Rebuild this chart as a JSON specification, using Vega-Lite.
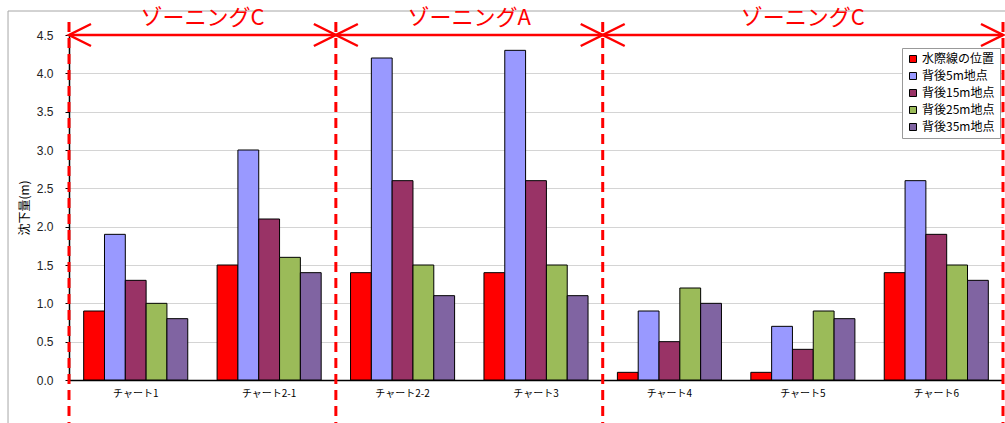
{
  "$schema": "https://vega.github.io/schema/vega-lite/v6.json",
  "width": 934,
  "height": 345,
  "autosize": {"type": "none"},
  "padding": {"left": 69, "top": 35, "right": 2, "bottom": 43},
  "background": "white",
  "config": {"view": {"stroke": null}, "font": "Liberation Sans"},
  "datasets": {
    "settlement": [
      {"chart": "チャート1", "series": "水際線の位置", "value": 0.9},
      {"chart": "チャート1", "series": "背後5m地点", "value": 1.9},
      {"chart": "チャート1", "series": "背後15m地点", "value": 1.3},
      {"chart": "チャート1", "series": "背後25m地点", "value": 1.0},
      {"chart": "チャート1", "series": "背後35m地点", "value": 0.8},
      {"chart": "チャート2-1", "series": "水際線の位置", "value": 1.5},
      {"chart": "チャート2-1", "series": "背後5m地点", "value": 3.0},
      {"chart": "チャート2-1", "series": "背後15m地点", "value": 2.1},
      {"chart": "チャート2-1", "series": "背後25m地点", "value": 1.6},
      {"chart": "チャート2-1", "series": "背後35m地点", "value": 1.4},
      {"chart": "チャート2-2", "series": "水際線の位置", "value": 1.4},
      {"chart": "チャート2-2", "series": "背後5m地点", "value": 4.2},
      {"chart": "チャート2-2", "series": "背後15m地点", "value": 2.6},
      {"chart": "チャート2-2", "series": "背後25m地点", "value": 1.5},
      {"chart": "チャート2-2", "series": "背後35m地点", "value": 1.1},
      {"chart": "チャート3", "series": "水際線の位置", "value": 1.4},
      {"chart": "チャート3", "series": "背後5m地点", "value": 4.3},
      {"chart": "チャート3", "series": "背後15m地点", "value": 2.6},
      {"chart": "チャート3", "series": "背後25m地点", "value": 1.5},
      {"chart": "チャート3", "series": "背後35m地点", "value": 1.1},
      {"chart": "チャート4", "series": "水際線の位置", "value": 0.1},
      {"chart": "チャート4", "series": "背後5m地点", "value": 0.9},
      {"chart": "チャート4", "series": "背後15m地点", "value": 0.5},
      {"chart": "チャート4", "series": "背後25m地点", "value": 1.2},
      {"chart": "チャート4", "series": "背後35m地点", "value": 1.0},
      {"chart": "チャート5", "series": "水際線の位置", "value": 0.1},
      {"chart": "チャート5", "series": "背後5m地点", "value": 0.7},
      {"chart": "チャート5", "series": "背後15m地点", "value": 0.4},
      {"chart": "チャート5", "series": "背後25m地点", "value": 0.9},
      {"chart": "チャート5", "series": "背後35m地点", "value": 0.8},
      {"chart": "チャート6", "series": "水際線の位置", "value": 1.4},
      {"chart": "チャート6", "series": "背後5m地点", "value": 2.6},
      {"chart": "チャート6", "series": "背後15m地点", "value": 1.9},
      {"chart": "チャート6", "series": "背後25m地点", "value": 1.5},
      {"chart": "チャート6", "series": "背後35m地点", "value": 1.3}
    ],
    "zones": [
      {"zone": "ゾーニングC", "start": 0, "end": 2},
      {"zone": "ゾーニングA", "start": 2, "end": 4},
      {"zone": "ゾーニングC", "start": 4, "end": 7}
    ],
    "boundaries": [{"pos": 0}, {"pos": 2}, {"pos": 4}, {"pos": 7}],
    "frame": [{"part": "chart area"}]
  },
  "layer": [
    {
      "data": {"name": "settlement"},
      "mark": {"type": "bar", "stroke": "#000000", "strokeWidth": 1},
      "encoding": {
        "x": {
          "field": "chart",
          "type": "nominal",
          "sort": ["チャート1", "チャート2-1", "チャート2-2", "チャート3", "チャート4", "チャート5", "チャート6"],
          "scale": {"paddingInner": 0.22, "paddingOuter": 0.11},
          "axis": {
            "title": null,
            "labelAngle": 0,
            "labelFont": "Noto Sans CJK JP",
            "labelFontSize": 10,
            "labelColor": "#000000",
            "labelPadding": 8,
            "ticks": false,
            "domainColor": "#000000",
            "domainWidth": 1.5
          }
        },
        "xOffset": {
          "field": "series",
          "type": "nominal",
          "sort": ["水際線の位置", "背後5m地点", "背後15m地点", "背後25m地点", "背後35m地点"],
          "scale": {"paddingInner": 0, "paddingOuter": 0}
        },
        "y": {
          "field": "value",
          "type": "quantitative",
          "scale": {"domain": [0, 4.5], "nice": false},
          "axis": {
            "title": "沈下量(m)",
            "titleFont": "Noto Sans CJK JP",
            "titleFontSize": 12,
            "titleFontWeight": "normal",
            "titleColor": "#000000",
            "titlePadding": 5,
            "values": [0, 0.5, 1, 1.5, 2, 2.5, 3, 3.5, 4, 4.5],
            "labelOverlap": false,
            "format": ".1f",
            "labelFontSize": 12,
            "labelColor": "#222222",
            "labelPadding": 12,
            "tickSize": 4,
            "tickColor": "#000000",
            "domainColor": "#000000",
            "domainWidth": 1.5,
            "grid": true,
            "gridColor": "#d4d4d4",
            "gridWidth": 1
          }
        },
        "color": {
          "field": "series",
          "type": "nominal",
          "scale": {
            "domain": ["水際線の位置", "背後5m地点", "背後15m地点", "背後25m地点", "背後35m地点"],
            "range": ["#FF0000", "#9999FF", "#993366", "#9BBB59", "#8064A2"]
          },
          "legend": {
            "title": null,
            "orient": "none",
            "legendX": 833,
            "legendY": 13,
            "fillColor": "#ffffff",
            "strokeColor": "#999999",
            "padding": 5,
            "rowPadding": 5,
            "symbolType": "square",
            "symbolSize": 49,
            "symbolStrokeColor": "#000000",
            "symbolStrokeWidth": 1,
            "symbolOpacity": 1,
            "labelFont": "Noto Sans CJK JP",
            "labelFontSize": 12,
            "labelColor": "#000000",
            "labelOffset": 3
          }
        }
      }
    },
    {
      "layer": [
        {
          "data": {"name": "frame"},
          "mark": {"type": "rule", "color": "#a6a6a6", "strokeWidth": 1},
          "encoding": {
            "x": {"datum": -0.457, "type": "quantitative", "scale": {"domain": [0, 7], "nice": false, "zero": false}, "axis": null},
            "x2": {"datum": 7.5},
            "y": {"datum": 4.813, "type": "quantitative", "axis": null}
          }
        },
        {
          "data": {"name": "frame"},
          "mark": {"type": "rule", "color": "#a6a6a6", "strokeWidth": 1},
          "encoding": {
            "x": {"datum": -0.457, "type": "quantitative", "axis": null},
            "y": {"datum": 4.813, "type": "quantitative", "axis": null},
            "y2": {"datum": -0.6}
          }
        },
        {
          "data": {"name": "boundaries"},
          "mark": {"type": "rule", "color": "#FF0000", "strokeWidth": 3, "strokeDash": [10, 6]},
          "encoding": {
            "x": {"field": "pos", "type": "quantitative", "axis": null},
            "y": {"datum": 4.67, "type": "quantitative", "axis": null},
            "y2": {"datum": -0.6}
          }
        },
        {
          "data": {"name": "zones"},
          "mark": {"type": "rule", "color": "#FF0000", "strokeWidth": 2.5},
          "encoding": {
            "x": {"field": "start", "type": "quantitative", "axis": null},
            "x2": {"field": "end"},
            "y": {"datum": 4.5, "type": "quantitative", "axis": null}
          }
        },
        {
          "data": {"name": "zones"},
          "mark": {"type": "point", "shape": "M2,-1L0,0L2,1", "size": 484, "filled": false, "stroke": "#FF0000", "strokeWidth": 2.5, "opacity": 1},
          "encoding": {
            "x": {"field": "start", "type": "quantitative", "axis": null},
            "y": {"datum": 4.5, "type": "quantitative", "axis": null}
          }
        },
        {
          "data": {"name": "zones"},
          "mark": {"type": "point", "shape": "M-2,-1L0,0L-2,1", "size": 484, "filled": false, "stroke": "#FF0000", "strokeWidth": 2.5, "opacity": 1},
          "encoding": {
            "x": {"field": "end", "type": "quantitative", "axis": null},
            "y": {"datum": 4.5, "type": "quantitative", "axis": null}
          }
        },
        {
          "data": {"name": "zones"},
          "transform": [{"calculate": "(datum.start + datum.end) / 2", "as": "mid"}],
          "mark": {"type": "text", "color": "#FF0000", "font": "Noto Sans CJK JP", "fontSize": 22, "baseline": "middle", "align": "center"},
          "encoding": {
            "x": {"field": "mid", "type": "quantitative", "axis": null},
            "y": {"datum": 4.72, "type": "quantitative", "axis": null},
            "text": {"field": "zone"}
          }
        }
      ]
    }
  ],
  "resolve": {"scale": {"x": "independent"}, "axis": {"x": "independent", "y": "independent"}}
}
